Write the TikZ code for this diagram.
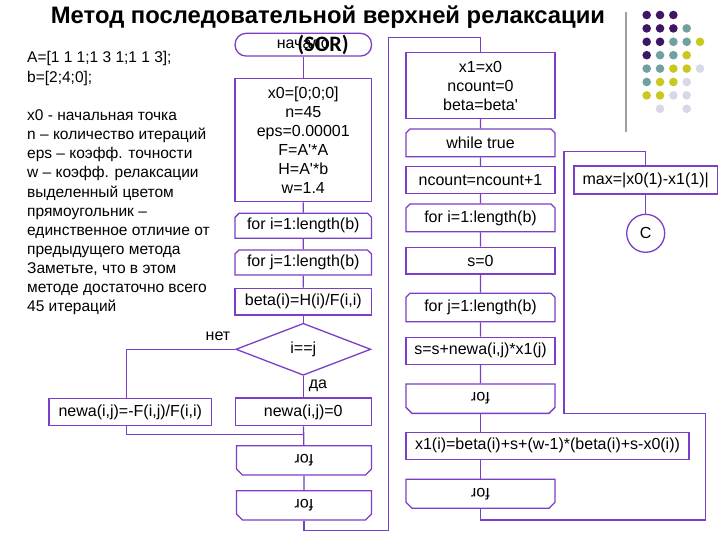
\documentclass[tikz,border=0pt]{standalone}
\usepackage{graphicx}
\usepackage{fontspec}
\setmainfont{Liberation Sans}
\newfontfamily\carl{Carlito}
\usetikzlibrary{shapes.geometric,shapes.misc,calc}
\definecolor{pur}{RGB}{122,62,200}
\definecolor{dP}{RGB}{62,22,100}
\definecolor{dT}{RGB}{112,160,160}
\definecolor{dY}{RGB}{200,200,30}
\definecolor{dL}{RGB}{216,216,232}
\begin{document}
\begin{tikzpicture}[x=1pt,y=-1pt,
  box/.style={draw=pur,line width=1.3pt,fill=white,inner sep=0pt,text=black,
    font=\fontsize{16}{19}\selectfont,align=center},
  loopbeg/.style={box,chamfered rectangle,chamfered rectangle corners={north west,north east},
    chamfered rectangle xsep=2pt,chamfered rectangle ysep=2pt},
  loopend/.style={box,chamfered rectangle,chamfered rectangle corners={south west,south east},
    chamfered rectangle xsep=3pt,chamfered rectangle ysep=3pt},
  conn/.style={draw=pur,line width=1.3pt},
  lbl/.style={font=\fontsize{16}{19}\selectfont,inner sep=0pt},
  lefttxt/.style={font=\fontsize{15.5}{19}\selectfont,anchor=base west,inner sep=0pt}
]
\useasboundingbox (0,0) rectangle (720,540);
\fill[white] (0,0) rectangle (720,540);

% decoration
\draw[gray!75,line width=2pt] (626,12) -- (626,132);
\foreach \c/\r/\col in {0/0/dP,1/0/dP,2/0/dP,
  0/1/dP,1/1/dP,2/1/dP,3/1/dT,
  0/2/dP,1/2/dP,2/2/dT,3/2/dT,4/2/dY,
  0/3/dP,1/3/dT,2/3/dT,3/3/dY,
  0/4/dT,1/4/dT,2/4/dY,3/4/dY,4/4/dL,
  0/5/dT,1/5/dY,2/5/dY,3/5/dL,
  0/6/dY,1/6/dY,2/6/dL,3/6/dL,
  1/7/dL,3/7/dL}
  \fill[\col] ({646.7+13.33*\c},{15+13.4*\r}) circle[radius=4.3];

% left text
\foreach \t [count=\i] in {A=[1 1 1;1 3 1;1 1 3];, b=[2;4;0];, , x0 -  начальная точка,
  n – количество итераций, eps – коэфф. точности, w – коэфф. релаксации,
  выделенный цветом, прямоугольник –, единственное отличие от, предыдущего метода,
  {Заметьте, что в этом}, методе достаточно всего, 45 итераций}
  \node[lefttxt] (l\i) at (27,{63+19.15*(\i-1)}) {\t};

% left flowchart
\node[box,rounded corners=11pt,minimum width=136.5pt,minimum height=22.7pt] (st) at (303.3,44.7) {начало};
\node[box,minimum width=136.5pt,minimum height=123.4pt] (init) at (303.3,140)
  {x0=[0;0;0]\\n=45\\eps=0.00001\\F=A\textquotesingle*A\\H=A\textquotesingle*b\\w=1.4};
\node[loopbeg,minimum width=136.5pt,minimum height=25pt] (fori) at (303.3,225.8) {for i=1:length(b)};
\node[loopbeg,minimum width=136.5pt,minimum height=25pt] (forj) at (303.3,262.5) {for j=1:length(b)};
\node[box,minimum width=136.5pt,minimum height=26.7pt] (beta) at (303.3,301.7) {beta(i)=H(i)/F(i,i)};
\node[box,diamond,minimum width=135pt,minimum height=52pt] (d) at (303.3,349.3) {i==j};
\node[box,minimum width=162.7pt,minimum height=27.4pt] (nL) at (130.3,412) {newa(i,j)=-F(i,j)/F(i,i)};
\node[box,minimum width=135.7pt,minimum height=27.7pt] (nR) at (303.3,411.9) {newa(i,j)=0};
\node[loopend,minimum width=135pt,minimum height=29.3pt] (e1) at (304,460.3) {\rotatebox{180}{for}};
\node[loopend,minimum width=135pt,minimum height=29.3pt] (e2) at (304,505.3) {\rotatebox{180}{for}};
\node[lbl] (no) at (218,336) {нет};
\node[lbl] (yes) at (318,386) {да};

% right flowchart
\node[box,minimum width=149pt,minimum height=65.6pt] (x1) at (480.5,85.5) {x1=x0\\ncount=0\\beta=beta\textquotesingle};
\node[loopbeg,minimum width=149pt,minimum height=27.7pt] (wh) at (480.5,142.9) {while true};
\node[box,minimum width=149pt,minimum height=26.6pt] (nc) at (480.5,180) {ncount=ncount+1};
\node[loopbeg,minimum width=149pt,minimum height=27.7pt] (fi2) at (480.5,217.9) {for i=1:length(b)};
\node[box,minimum width=149pt,minimum height=26.7pt] (s0) at (480.5,260.7) {s=0};
\node[loopbeg,minimum width=149pt,minimum height=28.4pt] (fj2) at (480.5,307.5) {for j=1:length(b)};
\node[box,minimum width=149pt,minimum height=27pt] (ss) at (480.5,350.8) {s=s+newa(i,j)*x1(j)};
\node[loopend,minimum width=149pt,minimum height=29.3pt] (r1) at (480.5,398.7) {\rotatebox{180}{for}};
\node[box,minimum width=283pt,minimum height=27pt] (x1i) at (547.5,445.8) {x1(i)=beta(i)+s+(w-1)*(beta(i)+s-x0(i))};
\node[loopend,minimum width=149pt,minimum height=29pt] (r2) at (480.5,493.8) {\rotatebox{180}{for}};
\node[box,minimum width=143.3pt,minimum height=28pt] (mx) at (645.7,180) {max=|x0(1)-x1(1)|};
\node[box,circle,minimum size=38pt] (C) at (645.7,233.3) {C};

% coordinates for bends
\coordinate (m1) at (303.3,434.3);
\coordinate (cb) at (388.3,530.7);
\coordinate (cc) at (388.3,37.3);
\coordinate (rb) at (705.7,520);
\coordinate (rc) at (705.7,413.3);
\coordinate (rd) at (564,413.3);
\coordinate (re) at (564,151.7);

% connectors left
\draw[conn] (st) -- (init);
\draw[conn] (init) -- (fori);
\draw[conn] (fori) -- (forj);
\draw[conn] (forj) -- (beta);
\draw[conn] (beta) -- (d);
\draw[conn] (d) -- (nR);
\draw[conn] (nR) -- (e1);
\draw[conn] (e1) -- (e2);
\draw[conn] (d.west) -| ([xshift=-3.6pt]nL.north);
\draw[conn] ([xshift=-3.6pt]nL.south) |- (m1);
\draw[conn] (e2.south) |- (cb) -- (cc) -| (x1.north);
% connectors right
\draw[conn] (x1) -- (wh);
\draw[conn] (wh) -- (nc);
\draw[conn] (nc) -- (fi2);
\draw[conn] (fi2) -- (s0);
\draw[conn] (s0) -- (fj2);
\draw[conn] (fj2) -- (ss);
\draw[conn] (ss) -- (r1);
\draw[conn] (r1.south) -- (r1.south |- x1i.north);
\draw[conn] (x1i.south -| r2.north) -- (r2.north);
\draw[conn] (r2.south) |- (rb) -- (rc) -- (rd) -- (re) -| (mx.north);
\draw[conn] (mx) -- (C);

% title
\node[font=\fontsize{23.8}{27}\selectfont\bfseries,inner sep=0pt] (title) at (328,17) {Метод последовательной верхней релаксации};
\node[font=\carl\fontsize{22}{26}\selectfont\bfseries,inner sep=0pt] (sor) at (323,45) {(SOR)};
\end{tikzpicture}
\end{document}
